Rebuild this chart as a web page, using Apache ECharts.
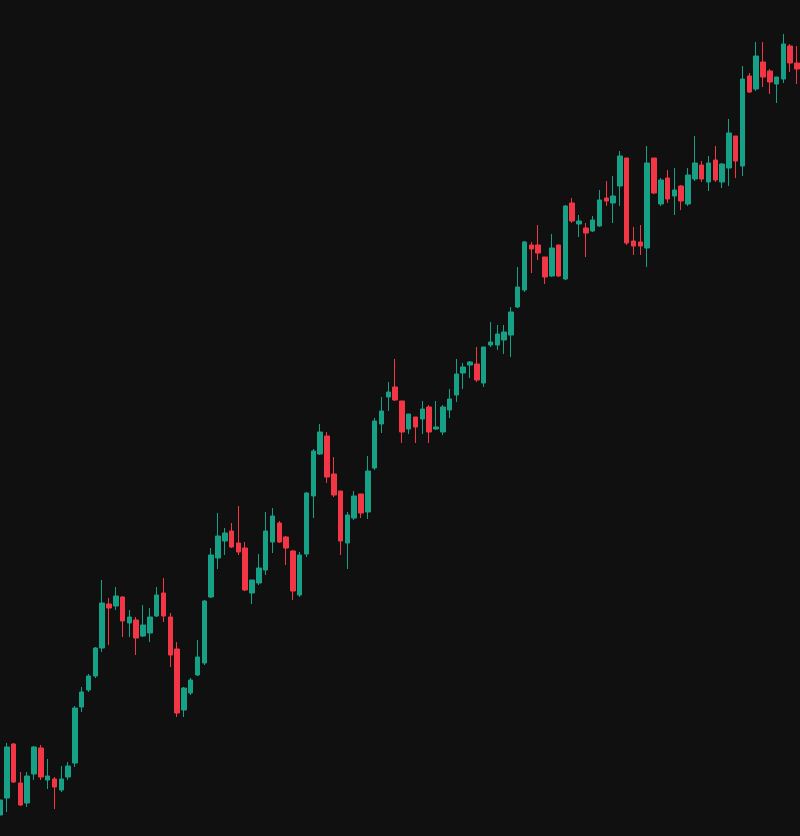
<!DOCTYPE html>
<html>
<head>
<meta charset="utf-8">
<script src="https://cdn.jsdelivr.net/npm/echarts@6/dist/echarts.min.js"></script>
<style>
  html, body { margin: 0; padding: 0; background: #101010; }
</style>
</head>
<body>
<div id="myChart" style="width:800px;height:836px"></div>
<script>
// candle values, one entry per session
var opens = [21, 38, 92, 53, 33, 62, 88, 56, 57, 46, 59, 73, 129, 146, 160, 188, 232, 230, 239, 213,
  216, 200, 203, 220, 243, 219, 187, 126, 143, 161, 173, 239, 278, 295, 305, 293, 288, 243, 253, 266,
  294, 313, 299, 285, 241, 282, 340, 382, 400, 362, 345, 293, 318, 342, 324, 368, 412, 439, 449, 435,
  407, 419, 417, 429, 407, 404, 426, 441, 463, 471, 472, 453, 491, 491, 496, 501, 529, 546, 591, 591,
  579, 560, 591, 557, 633, 612, 608, 605, 610, 638, 633, 650, 678, 595, 594, 588, 678, 632, 658, 640,
  650, 632, 657, 671, 654, 676, 654, 668, 700, 670, 760, 747, 774, 765, 752, 757, 790, 773]
var closes = [36, 89, 54, 31, 60, 89, 59, 60, 49, 57, 70, 128, 144, 160, 188, 233, 228, 240, 215, 219,
  198, 211, 219, 241, 220, 181, 123, 148, 156, 179, 235, 281, 300, 303, 289, 284, 246, 256, 268, 305,
  320, 294, 288, 245, 281, 343, 385, 404, 359, 341, 295, 321, 340, 323, 365, 415, 425, 444, 436, 404,
  422, 409, 427, 404, 409, 429, 437, 462, 469, 474, 456, 489, 494, 502, 504, 524, 549, 594, 587, 583,
  559, 588, 560, 630, 615, 615, 603, 616, 636, 635, 640, 680, 593, 590, 590, 673, 643, 656, 637, 646,
  635, 661, 673, 657, 673, 656, 672, 703, 675, 757, 744, 780, 759, 754, 759, 792, 773, 767]
var lows = [18, 24, 53, 30, 29, 56, 56, 47, 27, 44, 56, 69, 124, 144, 158, 184, 191, 226, 199, 199,
  181, 199, 194, 219, 214, 169, 119, 119, 141, 160, 171, 238, 267, 281, 288, 281, 245, 232, 251, 261,
  283, 293, 271, 236, 239, 279, 318, 381, 353, 339, 281, 267, 316, 318, 317, 366, 403, 425, 435, 393,
  402, 393, 402, 393, 406, 401, 418, 434, 447, 458, 454, 449, 489, 486, 482, 479, 528, 544, 563, 576,
  552, 559, 559, 556, 613, 599, 579, 604, 609, 630, 613, 630, 591, 581, 581, 569, 642, 630, 633, 621,
  626, 630, 655, 654, 645, 654, 648, 650, 658, 660, 743, 745, 749, 742, 733, 753, 764, 752]
var highs = [38, 93, 93, 64, 64, 90, 91, 77, 59, 70, 74, 130, 149, 162, 189, 256, 238, 249, 240, 226,
  219, 231, 228, 249, 258, 223, 194, 149, 158, 196, 236, 288, 323, 308, 313, 330, 294, 256, 282, 324,
  328, 315, 300, 286, 284, 344, 387, 412, 404, 379, 345, 324, 345, 342, 380, 418, 439, 454, 477, 435,
  422, 419, 435, 431, 435, 431, 447, 477, 473, 475, 489, 489, 514, 511, 511, 529, 569, 595, 594, 611,
  579, 602, 591, 631, 638, 621, 613, 620, 646, 655, 660, 685, 678, 609, 611, 690, 678, 658, 666, 668,
  651, 668, 700, 675, 680, 690, 673, 717, 700, 770, 763, 794, 794, 767, 759, 802, 792, 790]

var upColor = '#16a085'
var downColor = '#f23645'

var categories = []
for (var i = 0; i < opens.length; i++) {
  categories.push(String(i + 1))
}

var candles = opens.map(function (o, i) {
  return [o, closes[i], lows[i], highs[i]]
})

var myChart = echarts.init(document.getElementById('myChart'))

myChart.setOption({
  backgroundColor: '#101010',
  animation: false,
  grid: { left: 0, right: 3, top: 0, bottom: 0 },
  xAxis: {
    type: 'category',
    data: categories,
    boundaryGap: false,
    show: false
  },
  yAxis: {
    type: 'value',
    min: 0,
    max: 836,
    show: false,
    splitLine: { show: false }
  },
  series: [{
    type: 'candlestick',
    data: candles,
    barWidth: 5,
    clip: false,
    itemStyle: {
      color: upColor,
      color0: downColor,
      borderColor: upColor,
      borderColor0: downColor,
      borderWidth: 1
    }
  }]
})
</script>
</body>
</html>
